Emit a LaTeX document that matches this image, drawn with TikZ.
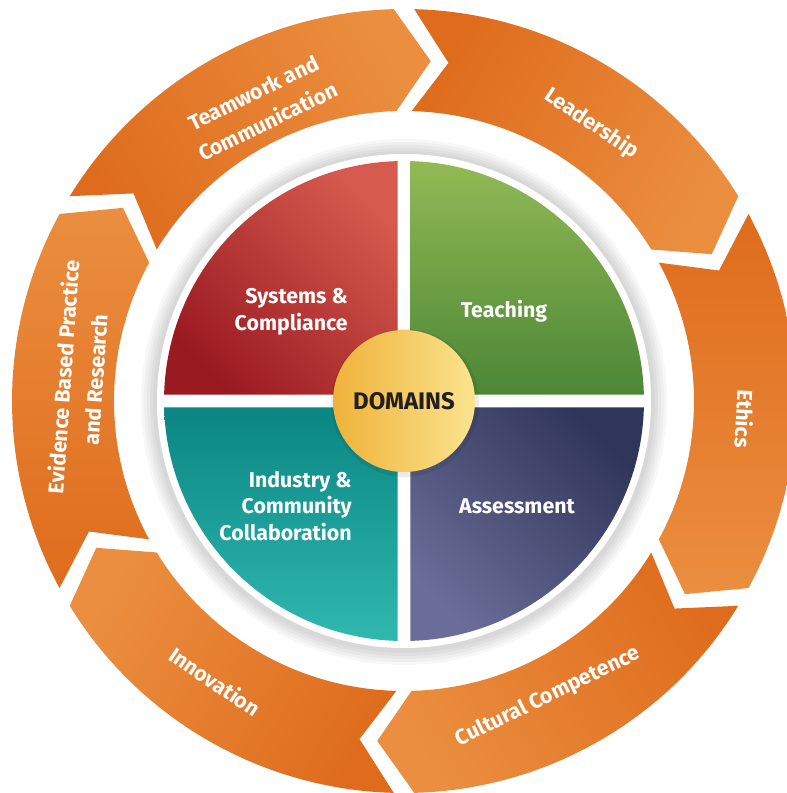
\documentclass[tikz,border=0pt]{standalone}
\usepackage{fontspec}
\setmainfont{Fira Sans}
\definecolor{orD}{HTML}{DF6C1D}
\definecolor{orL}{HTML}{EB8E3F}
\definecolor{redL}{HTML}{D65A4D}
\definecolor{redD}{HTML}{9A1A22}
\definecolor{grnL}{HTML}{92BA55}
\definecolor{grnD}{HTML}{4C8636}
\definecolor{tealD}{HTML}{0A8683}
\definecolor{tealL}{HTML}{30B8AF}
\definecolor{navD}{HTML}{30355A}
\definecolor{navL}{HTML}{6A6D97}
\definecolor{yelD}{HTML}{EFB23A}
\definecolor{yelL}{HTML}{FBE48F}
\definecolor{domtext}{HTML}{231F20}
\tikzset{
  ringtext/.style={text=white, font=\fontsize{16}{24}\selectfont\bfseries, align=center, inner sep=0pt},
  quadtext/.style={text=white, font=\fontsize{16}{20}\selectfont\bfseries, inner sep=0pt},
}
\begin{document}
\begin{tikzpicture}[x=0.75pt,y=0.75pt]
\useasboundingbox (-404,-392) rectangle (383,401);
\fill[white] (-404,-392) rectangle (383,401);
\def\Ro{392}\def\Ri{290}\def\Rm{341}
% ring of chevron segments
\foreach \p in {0,60,...,300}{
  \pgfmathsetmacro\A{\p+28.5}
  \pgfmathsetmacro\E{\p-28.5}
  \pgfmathsetmacro\T{\p-34.5}
  \pgfmathsetmacro\N{\p+22.5}
  \pgfmathsetmacro\S{\p-180}
  \shade[top color=orL, bottom color=orD, shading angle=\S]
    (\A:\Ro) arc[start angle=\A, end angle=\E, radius=\Ro] -- (\T:\Rm) -- (\E:\Ri)
    arc[start angle=\E, end angle=\A, radius=\Ri] -- (\N:\Rm) -- cycle;
}
% soft shadow and white disk
\foreach \r in {263,260,257,254,251}{
  \fill[black, opacity=0.03] (0,-1) circle[radius=\r];
}
\fill[white] (0,0) circle[radius=247];
% quadrants
\shade[top color=redL, bottom color=redD, shading angle=-45]
  (-6.5,6.5) -- (91.55:240) arc[start angle=91.55, end angle=178.45, radius=240] -- cycle;
\shade[top color=grnL, bottom color=grnD]
  (6.5,6.5) -- (88.45:240) arc[start angle=88.45, end angle=1.55, radius=240] -- cycle;
\shade[top color=tealD, bottom color=tealL]
  (-6.5,-6.5) -- (181.55:240) arc[start angle=181.55, end angle=268.45, radius=240] -- cycle;
\shade[top color=navD, bottom color=navL, shading angle=-45]
  (6.5,-6.5) -- (271.55:240) arc[start angle=271.55, end angle=358.45, radius=240] -- cycle;
% centre disk
\fill[black, opacity=0.08] (1,-2) circle[radius=74];
\shade[left color=yelD, right color=yelL] (0,0) circle[radius=71];
\node[text=domtext, font=\fontsize{18}{20}\selectfont\bfseries, inner sep=0pt] (dom) at (0,0) {DOMAINS};
% quadrant labels
\node[quadtext, align=right, anchor=east] (sys) at (-56,89) {Systems \&\\Compliance};
\node[quadtext] (tea) at (100,90) {Teaching};
\node[quadtext] (ass) at (113,-105) {Assessment};
\node[quadtext, align=right, anchor=east] (ind) at (-52,-105) {Industry \&\\Community\\Collaboration};
% ring labels
\node[ringtext, rotate=26] (team) at (116:327) {Teamwork and\\Communication};
\node[ringtext, rotate=-34] (lead) at (56:335) {Leadership};
\node[ringtext, rotate=-93] (eth) at (-3:341) {Ethics};
\node[ringtext, rotate=26] (cult) at (-64:329) {Cultural Competence};
\node[ringtext, rotate=-34] (inno) at (-124:338) {Innovation};
\node[ringtext, rotate=86] (evid) at (176:326) {Evidence Based Practice\\and Research};
\end{tikzpicture}
\end{document}
